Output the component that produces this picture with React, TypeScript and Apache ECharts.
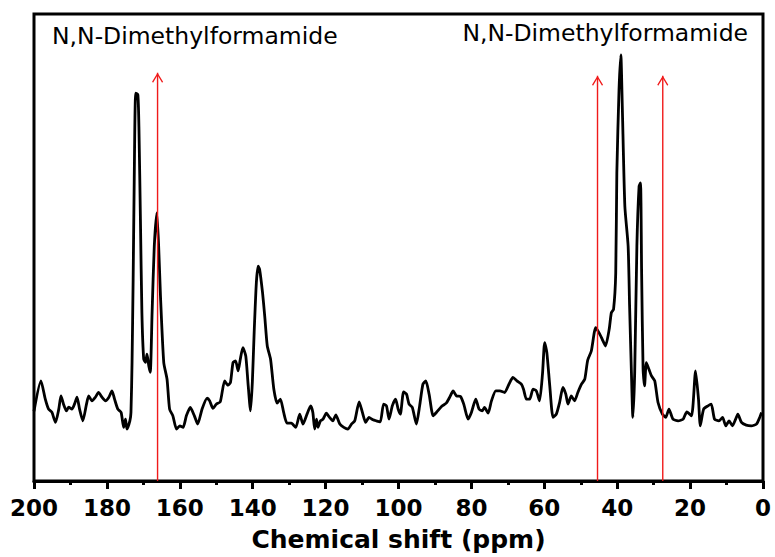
import React, { useEffect, useRef } from "react";
import * as echarts from "echarts";

// Chemical shift (ppm) and intensity (arbitrary units)
const ppmValues = [
  200, 198.1, 196.9, 196.0, 195.1, 194.1, 193.2, 192.6, 191.9, 191.1,
  190.5, 189.6, 188.9, 188.2, 187.5, 186.6, 185.6, 185.0, 184.1, 183.2,
  182.3, 181.3, 180.4, 179.5, 178.6, 177.9, 177.0, 176.1, 175.4, 174.9,
  174.5, 173.7, 173.4, 173.1, 172.8, 172.5, 172.1, 171.5, 171.2, 170.8,
  170.4, 169.9, 169.4, 169.0, 168.5, 168.1, 167.6, 167.0, 166.3, 165.8,
  165.3, 164.4, 163.5, 162.8, 161.9, 160.9, 160.0, 159.1, 158.2, 157.1,
  156.0, 155.1, 153.9, 152.5, 151.8, 150.9, 150.0, 148.9, 147.7, 146.8,
  146.1, 145.4, 144.7, 144.0, 143.4, 142.7, 141.9, 141.3, 140.6, 140.1,
  139.6, 139.0, 138.5, 138.1, 137.3, 136.7, 136.0, 135.1, 134.2, 133.3,
  132.4, 131.5, 130.6, 129.4, 128.2, 127.1, 126.2, 125.1, 124.1, 123.5,
  123.0, 122.5, 122.1, 121.4, 120.7, 119.8, 118.9, 118.0, 117.2, 116.1,
  115.0, 113.9, 112.9, 112.0, 110.8, 109.9, 109.0, 108.1, 107.0, 106.1,
  105.0, 104.1, 103.3, 102.6, 101.7, 100.8, 100.1, 99.5, 98.6, 97.8,
  97.1, 96.2, 95.1, 94.2, 93.3, 92.5, 91.6, 90.5, 89.6, 88.2,
  86.9, 86.0, 85.0, 84.1, 83.0, 82.1, 80.9, 80.0, 78.8, 77.9,
  77.0, 76.4, 75.4, 74.5, 73.3, 72.2, 70.9, 69.7, 68.6, 67.5,
  66.3, 65.7, 64.9, 64.0, 63.1, 62.2, 61.3, 60.5, 59.9, 59.3,
  58.5, 57.6, 56.7, 55.8, 54.9, 54.1, 53.5, 52.6, 51.7, 50.8,
  49.8, 48.9, 48.1, 47.1, 45.9, 45.0, 44.1, 43.2, 42.2, 41.6,
  41.0, 40.4, 40.1, 39.5, 39.0, 38.6, 37.9, 37.0, 36.6, 36.1,
  35.7, 35.2, 34.6, 34.0, 33.6, 33.3, 32.9, 32.5, 32.0, 31.3,
  30.6, 29.7, 28.8, 27.6, 26.7, 25.8, 24.7, 23.3, 21.9, 20.9,
  19.6, 18.5, 17.7, 17.2, 16.3, 15.1, 14.2, 13.3, 12.1, 11.1,
  10.2, 9.3, 8.4, 7.5, 6.9, 5.9, 4.6, 3.2, 1.8, 0.9,
  0.4,
];

const intensityValues = [
  70, 100.3, 82, 72, 69, 58.7, 72, 85.3, 77, 70.3,
  74, 72, 77, 84, 72, 60.3, 77, 85.3, 80.3, 83.7,
  88.7, 83.7, 80.3, 83.7, 90.3, 82, 72, 68.7, 53.7, 62,
  52, 60.3, 68.7, 119, 202, 302, 388.7, 387, 352, 262,
  169, 122, 119, 127, 115.3, 109, 169, 235.3, 268.7, 235.3,
  185.3, 118.7, 102, 72, 65.3, 52, 55.3, 53.7, 65.3, 73.7,
  65.3, 57, 72, 83, 80.3, 72.7, 77, 79.3, 100.3, 96,
  98.7, 118.7, 120.3, 110.3, 122, 133.7, 125.3, 98.7, 70.3, 98.7,
  148.7, 198.7, 215.3, 212, 188.7, 165.3, 135.3, 122, 92, 78,
  82, 68.7, 58, 58, 53.7, 67, 57, 67, 75.3, 68.7,
  52, 62, 53.7, 60.3, 62, 68, 63.7, 60.3, 66.3, 57,
  53.7, 52, 57, 60.3, 79.3, 68.7, 58.7, 63.7, 61.3, 60.3,
  59.3, 77, 75.3, 62, 75.3, 82, 72, 67, 89.3, 87,
  77, 73.7, 57, 75.3, 97, 100.3, 87, 65.3, 68.7, 74.7,
  78, 83.7, 90.3, 85.3, 84.7, 77, 62, 68.7, 82, 72,
  70.3, 73.7, 68, 80.3, 90.3, 90.3, 88.7, 97, 103.7, 100.3,
  97, 92, 82, 82, 92, 90.3, 80.3, 107, 138.7, 128.7,
  95.3, 63.7, 67, 78.7, 93.7, 87, 77, 85.3, 80.3, 88.7,
  97, 102, 121, 130.3, 153.7, 148.7, 142, 135.3, 152, 168.7,
  172, 208.7, 308.7, 392, 427, 375.3, 275.3, 235.3, 175.3, 108.7,
  63.7, 108.7, 235.3, 295.3, 298.7, 208.7, 112, 95.3, 118.7, 112,
  105.3, 100.3, 78.7, 67, 63.7, 72, 62, 60.3, 62, 69.3,
  65.3, 110.3, 82, 55.3, 72, 75.3, 77, 62, 60.3, 63.7,
  55.3, 60.3, 55.3, 62, 67, 58.7, 56, 55.3, 57, 63.7,
  68.7,
];

// Red arrows: position (ppm) and tip height (intensity units)
const arrowPpm = [166.1, 45.4, 27.5];
const arrowTop = [409, 406, 406];

const annotationTexts = ["N,N-Dimethylformamide", "N,N-Dimethylformamide"];
const xTickInterval = 20;

const CHEVRON = "path://M0,9 L5.5,0 L11,9 L10,9.8 L5.5,2.4 L1,9.8 Z";

export default function App() {
  const ref = useRef<HTMLDivElement>(null);

  useEffect(() => {
    if (!ref.current) return;
    const chart = echarts.init(ref.current, undefined, { renderer: "svg" });

    const n = Math.min(ppmValues.length, intensityValues.length);
    const spectrum: [number, number][] = [];
    for (let i = 0; i < n; i++) spectrum.push([ppmValues[i], intensityValues[i]]);

    const arrowSeries = arrowPpm.map((p, i) => ({
      type: "line",
      silent: true,
      z: 5,
      lineStyle: { color: "#f01a1a", width: 1.4 },
      itemStyle: { color: "#f01a1a" },
      data: [
        { value: [p, 0], symbol: "none" },
        {
          value: [p, arrowTop[i]],
          symbol: CHEVRON,
          symbolSize: [11, 9.8],
          symbolOffset: [0, 4.9],
        },
      ],
    }));

    chart.setOption({
      animation: false,
      backgroundColor: "#ffffff",
      grid: {
        left: 34,
        right: 12,
        top: 14,
        bottom: 75,
        show: true,
        borderColor: "#000",
        borderWidth: 3,
        backgroundColor: "transparent",
      },
      xAxis: {
        type: "value",
        inverse: true,
        min: 0,
        max: 200,
        interval: xTickInterval,
        name: "Chemical shift (ppm)",
        nameLocation: "middle",
        nameGap: 46,
        nameTextStyle: {
          fontFamily: "DejaVu Sans",
          fontWeight: "bold",
          fontSize: 25,
          color: "#000",
        },
        axisLine: { show: true, lineStyle: { color: "#000", width: 3 } },
        axisTick: { show: true, inside: false, length: 8, lineStyle: { color: "#000", width: 3 } },
        minorTick: { show: true, splitNumber: 2, length: 4, lineStyle: { color: "#000", width: 3 } },
        axisLabel: {
          margin: 15,
          fontFamily: "DejaVu Sans",
          fontWeight: "bold",
          fontSize: 23,
          color: "#000",
        },
        splitLine: { show: false },
      },
      yAxis: {
        type: "value",
        min: 0,
        max: 468,
        axisLine: { show: false },
        axisTick: { show: false },
        axisLabel: { show: false },
        splitLine: { show: false },
      },
      graphic: [
        {
          type: "text",
          left: 52,
          top: 24,
          style: {
            text: annotationTexts[0],
            fontFamily: "DejaVu Sans",
            fontSize: 23.5,
            fill: "#000",
          },
        },
        {
          type: "text",
          right: 27,
          top: 21,
          style: {
            text: annotationTexts[1],
            fontFamily: "DejaVu Sans",
            fontSize: 23.5,
            fill: "#000",
          },
        },
      ],
      series: [
        {
          type: "line",
          data: spectrum,
          symbol: "none",
          silent: true,
          smooth: 0.2,
          z: 3,
          lineStyle: { color: "#000", width: 2.8 },
        },
        ...arrowSeries,
      ],
    });

    return () => chart.dispose();
  }, []);

  return (
    <div
      ref={ref}
      style={{ position: "fixed", left: 0, top: 0, width: 775, height: 557, background: "#fff" }}
    />
  );
}
